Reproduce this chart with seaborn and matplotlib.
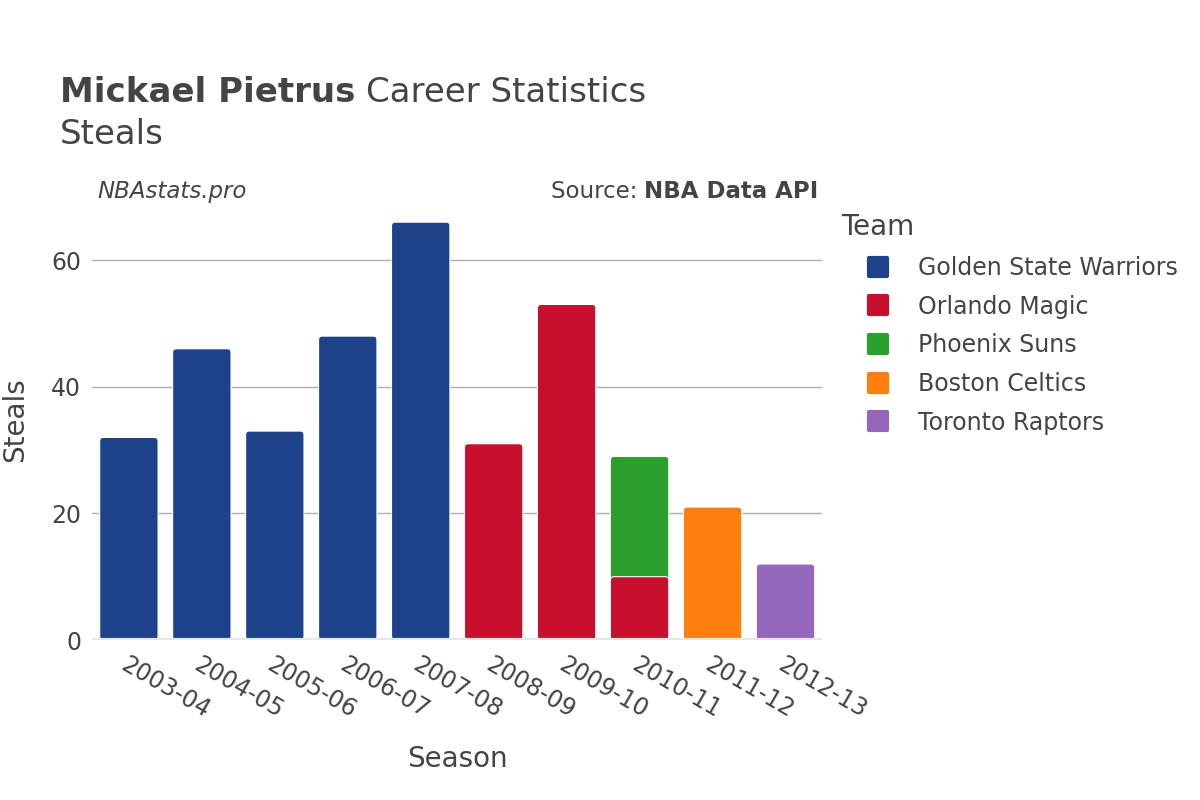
import pandas as pd
import matplotlib.pyplot as plt
import seaborn as sns
from matplotlib.patches import FancyBboxPatch
from matplotlib.lines import Line2D
from matplotlib.markers import MarkerStyle


# DATA

seasons = ['2003-04', '2004-05', '2005-06', '2006-07', '2007-08',
           '2008-09', '2009-10', '2010-11', '2011-12', '2012-13']

row_seasons = ['2003-04', '2004-05', '2005-06', '2006-07', '2007-08',
               '2008-09', '2009-10', '2010-11', '2010-11', '2011-12', '2012-13']
row_teams = ['Golden State Warriors', 'Golden State Warriors', 'Golden State Warriors',
             'Golden State Warriors', 'Golden State Warriors',
             'Orlando Magic', 'Orlando Magic', 'Orlando Magic', 'Phoenix Suns',
             'Boston Celtics', 'Toronto Raptors']
row_steals = [32, 46, 33, 48, 66, 31, 53, 10, 19, 21, 12]

teams = ['Golden State Warriors', 'Orlando Magic', 'Phoenix Suns',
         'Boston Celtics', 'Toronto Raptors']
team_colors = ['#1d428a', '#c8102e', '#2ca02c', '#ff7f0e', '#9467bd']

TXT = '#444444'


def build_frame():
    df = pd.DataFrame({'season': row_seasons, 'team': row_teams, 'steals': row_steals})
    df['top'] = df.groupby('season')['steals'].cumsum()
    df['layer'] = df.groupby('season').cumcount()
    return df


def round_bars(ax, radius=0.05, aspect=11.5):
    # swap the plain rectangles for ones with rounded corners
    for p in list(ax.patches):
        x, y = p.get_x(), p.get_y()
        w, h = p.get_width(), p.get_height()
        if h <= 0:
            continue
        fb = FancyBboxPatch((x, y), w, h,
                            boxstyle=f'round,pad=0,rounding_size={radius}',
                            mutation_aspect=aspect,
                            facecolor=p.get_facecolor(), edgecolor='white',
                            linewidth=0.8, zorder=p.get_zorder())
        p.remove()
        ax.add_patch(fb)


def plot_steals(df):
    sns.set_style('white')
    plt.rcParams['font.family'] = ['DejaVu Sans']

    fig = plt.figure(figsize=(12, 8), dpi=100)
    ax = fig.add_axes([0.077, 0.2, 0.608, 0.55])
    palette = dict(zip(teams, team_colors))

    # stack: draw the upper layers first, lower ones on top of them
    for layer in sorted(df['layer'].unique(), reverse=True):
        sub = df[df['layer'] == layer]
        sns.barplot(
            data=sub, x='season', y='top', hue='team',
            order=seasons, hue_order=teams, palette=palette,
            dodge=False, width=0.8, saturation=1, legend=False,
            ax=ax
        )
    round_bars(ax)

    ax.set_ylim(0, 69.5)
    ax.set_xlim(-0.5, len(seasons) - 0.5)
    ax.set_yticks([0, 20, 40, 60])
    ax.yaxis.grid(True, color='#b0b0b0', linewidth=1)
    ax.set_axisbelow(True)
    ax.axhline(0, color='#e6e6e6', linewidth=3, zorder=5)
    for s in ax.spines.values():
        s.set_visible(False)

    ax.tick_params(axis='both', length=0, labelsize=17, colors=TXT)
    ax.tick_params(axis='y', pad=8)
    ax.tick_params(axis='x', pad=9)
    plt.setp(ax.get_xticklabels(), rotation=-30, ha='left', va='top',
             rotation_mode='anchor')

    ax.set_xlabel('Season', fontsize=20, color=TXT, labelpad=16)
    ax.set_ylabel('Steals', fontsize=20, color=TXT, labelpad=16)

    t1 = fig.text(0.05, 0.872, 'Mickael Pietrus', fontsize=24.5, fontweight='bold', color=TXT)
    fig.add_artist(plt.Annotation('Career Statistics', xy=(1, 0), xycoords=t1,
                                  xytext=(8, 0), textcoords='offset points',
                                  fontsize=24.5, color=TXT, va='bottom'))
    fig.text(0.05, 0.82, 'Steals', fontsize=24.5, color=TXT)
    fig.text(0.081, 0.752, 'NBAstats.pro', fontsize=16.5, style='italic', color=TXT)
    t2 = fig.text(0.682, 0.752, 'NBA Data API', fontsize=16.5, fontweight='bold',
                  color=TXT, ha='right')
    fig.add_artist(plt.Annotation('Source: ', xy=(0, 0), xycoords=t2,
                                  xytext=(0, 0), textcoords='offset points',
                                  fontsize=16.5, color=TXT, ha='right', va='bottom'))

    sq = MarkerStyle('s', joinstyle='round')
    handles = [Line2D([], [], linestyle='none', marker=sq, markersize=13,
                      markerfacecolor=c, markeredgecolor=c, markeredgewidth=3,
                      label=t)
               for t, c in zip(teams, team_colors)]
    leg = fig.legend(handles=handles, title='Team', loc='upper left',
                     bbox_to_anchor=(0.693, 0.745), frameon=False,
                     fontsize=17, title_fontsize=20, handlelength=3.1,
                     handletextpad=0.15, labelspacing=0.62,
                     borderaxespad=0)
    leg._legend_box.align = 'left'
    for t in leg.get_texts():
        t.set_color(TXT)
    leg.get_title().set_color(TXT)

    fig.savefig('out.png', dpi=100)
    plt.close(fig)


if __name__ == "__main__":
    plot_steals(build_frame())
